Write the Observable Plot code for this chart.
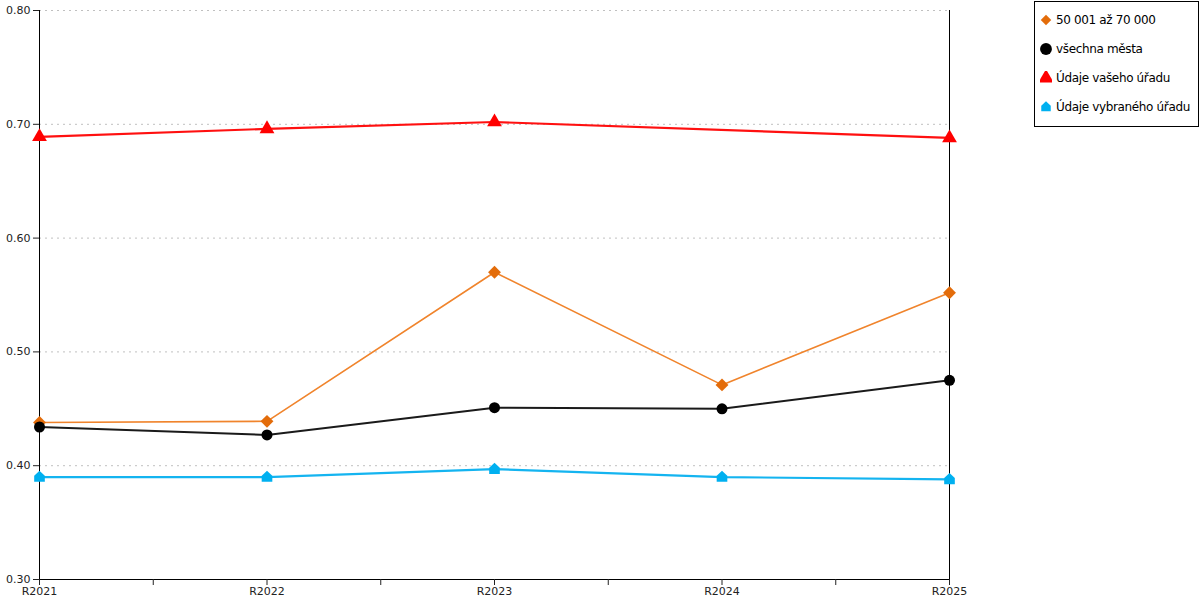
<!DOCTYPE html>
<html><head><meta charset="utf-8">
<script src="https://cdn.jsdelivr.net/npm/d3@7"></script>
<script src="https://cdn.jsdelivr.net/npm/@observablehq/plot@0.6"></script>
<style>
body{margin:0;background:#fff;font-family:"DejaVu Sans",Verdana,sans-serif;}
#wrap{position:relative;width:1200px;height:600px;}
#legend{position:absolute;left:1034px;top:1px;width:163px;height:124px;border:1px solid #000;background:#fff;font-size:12px;color:#000;}
.item{position:absolute;left:5px;height:16px;display:flex;align-items:center;white-space:nowrap;}
.item svg{margin-right:4px;flex:none;}
.item span{letter-spacing:-0.35px;}
</style></head>
<body><div id="wrap"><div id="chart"></div><div id="legend"></div></div>
<script>
const years = ["R2021","R2022","R2023","R2024","R2025"];
const seriesNames = ["50 001 až 70 000","všechna města","Údaje vašeho úřadu","Údaje vybraného úřadu"];
const orangeVals = [0.438,0.439,0.570,0.471,0.552];
const blackVals  = [0.434,0.427,0.451,0.450,0.475];
const redVals    = [0.689,0.696,0.702,null,0.688];
const blueVals   = [0.390,0.390,0.397,0.390,0.388];
const yTicks = [0.3,0.4,0.5,0.6,0.7,0.8];

const house = {draw(ctx, size){ const s=Math.sqrt(size)/2; ctx.moveTo(0,-s*1.2); ctx.lineTo(s,-s*0.25); ctx.lineTo(s,s*0.9); ctx.lineTo(-s,s*0.9); ctx.lineTo(-s,-s*0.25); ctx.closePath(); }};

const styles = [
  {vals:orangeVals, line:"#F0842C", fill:"#E36C0A", sym:"diamond2", r:5.8, w:1.6},
  {vals:blackVals, line:"#1a1a1a", fill:"#000000", sym:"circle", r:5.5, w:2},
  {vals:redVals, line:"#FF1010", fill:"#FF0000", sym:"triangle", r:5.5, w:2.2},
  {vals:blueVals, line:"#14B4F0", fill:"#00B0F0", sym:house, r:6, w:2.2},
];
const rows = (vals)=>vals.map((v,i)=>({i, v})).filter(d=>d.v!=null);

const marks = [
  Plot.gridY(yTicks.filter(t=>t>0.3), {stroke:"#c0c0c0", strokeOpacity:1, strokeDasharray:"2,4", strokeWidth:1}),
  Plot.ruleX([4], {stroke:"#000"}),
  Plot.ruleX([0], {stroke:"#000"}),
  Plot.ruleY([0.3], {stroke:"#000"}),
];
for (const s of styles) {
  marks.push(Plot.line(rows(s.vals), {x:"i", y:"v", stroke:s.line, strokeWidth:s.w}));
}
for (const s of styles) {
  marks.push(Plot.dot(rows(s.vals), {x:"i", y:"v", symbol:()=>s.sym, fill:s.fill, stroke:"none", r:s.r}));
}
marks.push(Plot.axisX({ticks:d3.range(0,4.01,0.5), tickFormat:d=>Number.isInteger(d)?years[d]:"", tickSize:6, tickPadding:2, fontSize:11, label:null}));
marks.push(Plot.axisY({ticks:yTicks, tickFormat:d3.format(".2f"), tickSize:6, tickPadding:3, fontSize:11, label:null}));

const chart = Plot.plot({
  width:1200, height:600,
  marginTop:10, marginBottom:21, marginLeft:39, marginRight:251,
  style:{fontFamily:"DejaVu Sans, Verdana, sans-serif", fontSize:"11px", color:"#222", background:"#fff"},
  x:{type:"linear", domain:[0,4], label:null},
  y:{domain:[0.3,0.8], label:null},
  symbol:{type:"identity"},
  marks
});
document.getElementById("chart").appendChild(chart);

const leg = document.getElementById("legend");
const legSyms = [d3.symbolDiamond2, d3.symbolCircle, d3.symbolTriangle, house];
const legSizes = [70, 110, 100, 90];
seriesNames.forEach((n,k)=>{
  const it = document.createElement("div");
  it.className="item"; it.style.top = (10 + k*29) + "px";
  const p = d3.symbol(legSyms[k], legSizes[k])();
  it.innerHTML = `<svg width="12" height="14" viewBox="-6 -7 12 14"><path d="${p}" fill="${styles[k].fill}"/></svg><span>${n}</span>`;
  leg.appendChild(it);
});
</script></body></html>
